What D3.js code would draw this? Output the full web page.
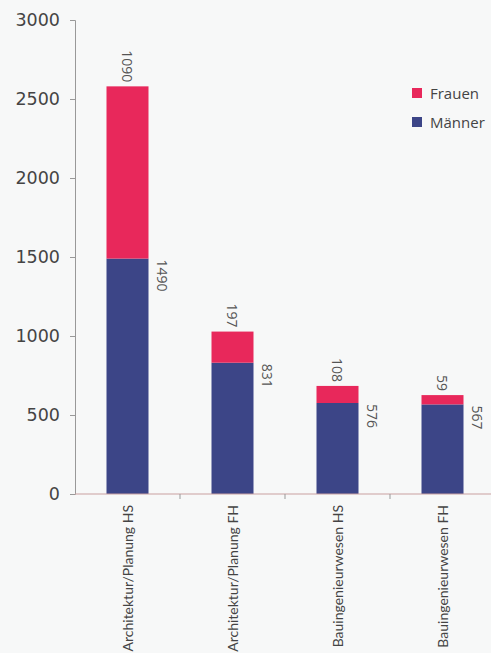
<!DOCTYPE html>
<html>
<head>
<meta charset="utf-8">
<script src="https://cdn.jsdelivr.net/npm/d3@7"></script>
<style>
  html, body { margin: 0; padding: 0; background: #f7f8f8; }
  svg { display: block; }
</style>
</head>
<body>
<svg id="chart" width="491" height="653"></svg>
<script>
const categories = ["Architektur/Planung HS", "Architektur/Planung FH", "Bauingenieurwesen HS", "Bauingenieurwesen FH"];
const maenner = [1490, 831, 576, 567];
const frauen = [1090, 197, 108, 59];
const seriesNames = ["Frauen", "Männer"];
const yTicks = [0, 500, 1000, 1500, 2000, 2500, 3000];

const colors = { "Männer": "#3c4587", "Frauen": "#e8285b" };

const svg = d3.select("#chart");
const x0 = 75, yZero = 494, yTop = 20;

const x = d3.scaleBand().domain(categories).range([x0, 495]).paddingInner(0.6).paddingOuter(0.3);
const y = d3.scaleLinear().domain([0, 3000]).range([yZero, yTop]);

// y axis
const yAxis = svg.append("g").attr("transform", `translate(${x0},0)`)
  .call(d3.axisLeft(y).tickValues(yTicks).tickFormat(d3.format("d")).tickSize(5).tickPadding(10));
yAxis.select(".domain").attr("stroke", "#999").attr("stroke-width", 1);
yAxis.selectAll(".tick line").attr("stroke", "#999");
yAxis.selectAll(".tick text").attr("font-family", "DejaVu Sans").attr("font-size", 17.5).attr("fill", "#444");

// bars
const data = categories.map((c, i) => ({ c, m: maenner[i], f: frauen[i] }));
const g = svg.append("g");
g.selectAll("rect.m").data(data).join("rect")
  .attr("x", d => x(d.c)).attr("width", x.bandwidth())
  .attr("y", d => y(d.m)).attr("height", d => y(0) - y(d.m))
  .attr("fill", colors["Männer"]);
g.selectAll("rect.f").data(data).join("rect")
  .attr("x", d => x(d.c)).attr("width", x.bandwidth())
  .attr("y", d => y(d.m + d.f)).attr("height", d => y(d.m) - y(d.m + d.f))
  .attr("fill", colors["Frauen"]);

// x axis
const xAxis = svg.append("g").attr("transform", `translate(0,${yZero})`);
xAxis.append("line").attr("x1", x0).attr("x2", 491).attr("stroke", "#c9a0a0").attr("stroke-width", 1);
xAxis.selectAll("line.tick").data(categories.slice(1)).join("line")
  .attr("x1", d => x(d) - x.step() * x.paddingInner() / 2)
  .attr("x2", d => x(d) - x.step() * x.paddingInner() / 2)
  .attr("y1", 0).attr("y2", 5).attr("stroke", "#999");

// category labels
svg.selectAll("text.cat").data(categories).join("text")
  .attr("transform", d => `translate(${x(d) + x.bandwidth() / 2},505) rotate(-90)`)
  .attr("text-anchor", "end").attr("dominant-baseline", "central")
  .attr("font-family", "Lato").attr("font-size", 14).attr("fill", "#444")
  .text(d => d);

// value labels
const lblFont = "Open Sans";
svg.selectAll("text.fv").data(data).join("text")
  .attr("transform", d => `translate(${x(d.c) + x.bandwidth() / 2},${y(d.m + d.f) - 4}) rotate(90)`)
  .attr("text-anchor", "end").attr("dominant-baseline", "central")
  .attr("font-family", lblFont).attr("font-size", 14).attr("fill", "#555")
  .text(d => d.f);
svg.selectAll("text.mv").data(data).join("text")
  .attr("transform", d => `translate(${x(d.c) + x.bandwidth() + 14},${y(d.m) + 1}) rotate(90)`)
  .attr("text-anchor", "start").attr("dominant-baseline", "central")
  .attr("font-family", lblFont).attr("font-size", 14).attr("fill", "#555")
  .text(d => d.m);

// legend
const legend = svg.append("g").attr("transform", "translate(412,88)");
seriesNames.forEach((s, i) => {
  const row = legend.append("g").attr("transform", `translate(0,${i * 29})`);
  row.append("rect").attr("width", 10).attr("height", 10).attr("fill", colors[s]);
  row.append("text").attr("x", 18).attr("y", 5).attr("dominant-baseline", "central")
    .attr("font-family", "Open Sans").attr("font-size", 15).attr("fill", "#444").text(s);
});
</script>
</body>
</html>
